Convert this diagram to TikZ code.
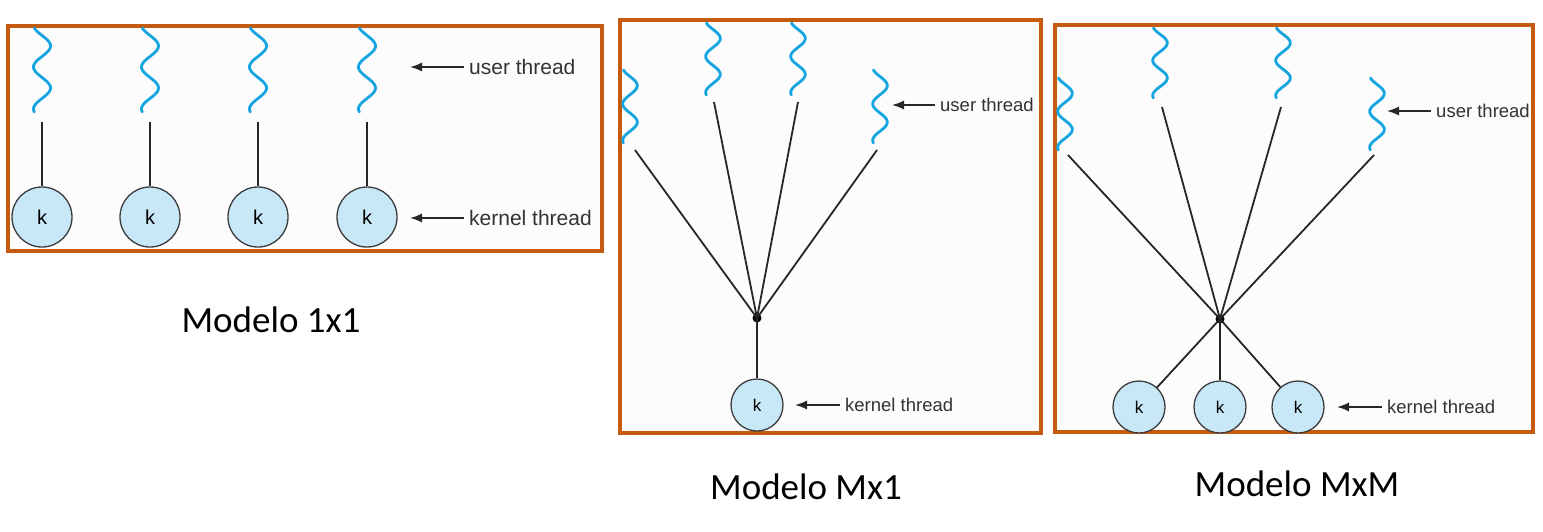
\documentclass[tikz,border=0pt]{standalone}
\usepackage{fontspec}
\setmainfont{Liberation Sans}
\newfontfamily\capfont{Carlito}
\usetikzlibrary{arrows.meta}
\definecolor{frameor}{RGB}{197,90,17}
\definecolor{wavebl}{RGB}{20,165,225}
\definecolor{kfill}{RGB}{200,232,248}
\definecolor{panelbg}{RGB}{252,252,252}
\definecolor{kborder}{RGB}{60,60,60}
\newcommand{\uthr}[4]{%
  \draw[uwave] plot[domain=0:1, samples=90, smooth, variable=\t] ({#1 + #4*sin(720*\t - 64)}, {#2 + #3*\t});
}
\begin{document}
\begin{tikzpicture}[x=1pt,y=-1pt,
  panel/.style={draw=frameor, line width=3.5pt, fill=panelbg},
  uwave/.style={draw=wavebl, line width=2.8pt, line cap=round},
  kbig/.style={circle, draw=kborder, line width=1.3pt, fill=kfill, minimum size=60pt, inner sep=0pt, font=\fontsize{20}{24}\selectfont},
  ksmall/.style={kbig, minimum size=52pt, font=\fontsize{17}{20}\selectfont},
  conn/.style={draw=black!85, line width=1.8pt},
  ptr/.style={draw=black!85, line width=1.5pt, -{Latex[length=12pt,width=9pt]}},
  lblA/.style={anchor=west, inner xsep=5pt, inner ysep=0pt, text=black!80, font=\fontsize{21}{24}\selectfont},
  lblB/.style={lblA, font=\fontsize{18.5}{22}\selectfont},
  junc/.style={circle, fill=black, inner sep=0pt, minimum size=9pt},
  capt/.style={font=\capfont\fontsize{37}{42}\selectfont, text=black}
]
\useasboundingbox (0,0) rectangle (1543,531);
\fill[white] (0,0) rectangle (1543,531);

% ---------- Panel 1: 1x1 ----------
\draw[panel] (8,26) rectangle (602,251);
\foreach \cx [count=\i] in {42,150,258,367}{
  \uthr{\cx}{28}{84}{8.5}
  \coordinate (a\i) at (\cx,122);
}
\node[kbig] (k1) at (42,217) {k};
\node[kbig] (k2) at (150,217) {k};
\node[kbig] (k3) at (258,217) {k};
\node[kbig] (k4) at (367,217) {k};
\foreach \i in {1,2,3,4}{ \draw[conn] (a\i) -- (k\i.north); }
\node[lblA] (u1) at (464,67) {user thread};
\coordinate (ut1) at (410,67);
\draw[ptr] (u1.west) -- (ut1);
\node[lblA] (kl1) at (464,218) {kernel thread};
\coordinate (kt1) at (410,218);
\draw[ptr] (kl1.west) -- (kt1);
\node[capt] (c1) at (271,320) {Modelo 1x1};

% ---------- Panel 2: Mx1 ----------
\draw[panel] (620,20) rectangle (1041,433);
\uthr{630}{70}{73}{7.3}
\uthr{713}{23}{72}{7.3}
\uthr{798}{23}{72}{7.3}
\uthr{880}{70}{73}{7.3}
\coordinate (b1) at (635,150);
\coordinate (b2) at (714,102);
\coordinate (b3) at (798,102);
\coordinate (b4) at (877,150);
\node[junc] (j2) at (757,318) {};
\foreach \i in {1,2,3,4}{ \draw[conn] (b\i) -- (j2.center); }
\node[ksmall] (m1) at (757,405) {k};
\draw[conn] (j2.center) -- (m1.north);
\node[lblB] (u2) at (935,105) {user thread};
\coordinate (ut2) at (892,105);
\draw[ptr] (u2.west) -- (ut2);
\node[lblB] (kl2) at (840,405) {kernel thread};
\coordinate (kt2) at (795,405);
\draw[ptr] (kl2.west) -- (kt2);
\node[capt] (c2) at (806,487) {Modelo Mx1};

% ---------- Panel 3: MxM ----------
\draw[panel] (1055,25) rectangle (1533,432);
\uthr{1065}{78}{72}{7.3}
\uthr{1160}{28}{70}{7.3}
\uthr{1283}{28}{70}{7.3}
\uthr{1377}{78}{72}{7.3}
\coordinate (d1) at (1068,155);
\coordinate (d2) at (1162,107);
\coordinate (d3) at (1281,107);
\coordinate (d4) at (1374,155);
\node[junc] (j3) at (1220,319) {};
\foreach \i in {1,2,3,4}{ \draw[conn] (d\i) -- (j3.center); }
\node[ksmall] (n1) at (1139,407) {k};
\node[ksmall] (n2) at (1220,407) {k};
\node[ksmall] (n3) at (1298,407) {k};
\foreach \i in {1,2,3}{ \draw[conn] (j3.center) -- (n\i); }
\node[lblB] (u3) at (1431,111) {user thread};
\coordinate (ut3) at (1387,111);
\draw[ptr] (u3.west) -- (ut3);
\node[lblB] (kl3) at (1382,407) {kernel thread};
\coordinate (kt3) at (1337,407);
\draw[ptr] (kl3.west) -- (kt3);
\node[capt] (c3) at (1297,484) {Modelo MxM};
\end{tikzpicture}
\end{document}
